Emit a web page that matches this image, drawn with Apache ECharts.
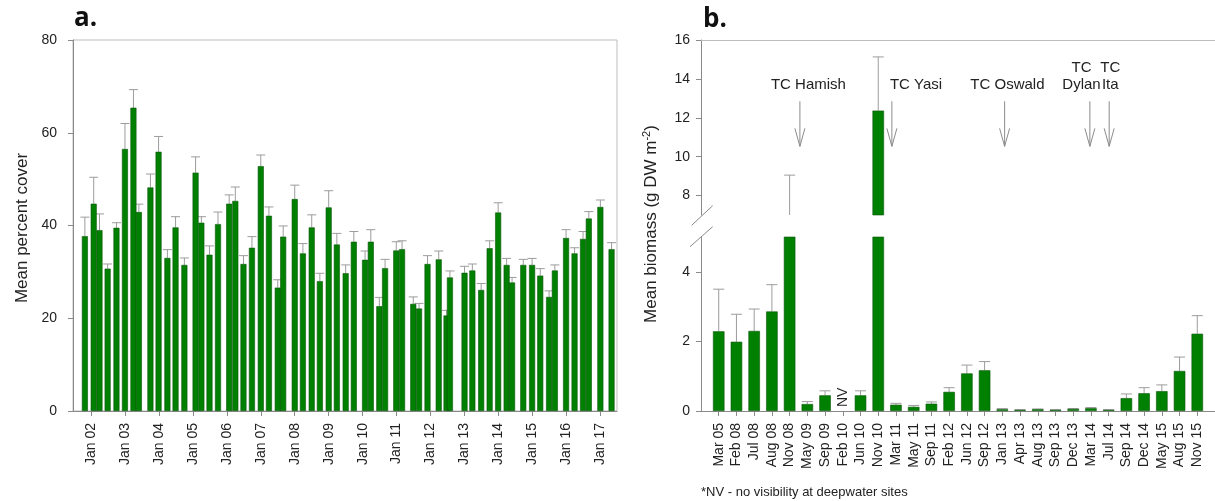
<!DOCTYPE html>
<html><head><meta charset="utf-8">
<script src="https://cdn.jsdelivr.net/npm/echarts@6/dist/echarts.min.js"></script>
<style>html,body{margin:0;padding:0;background:#fff}#c{width:1215px;height:501px}</style>
</head><body><div id="c"></div>
<script>
// ---------- Panel a: mean percent cover ----------
const coverDates = [2001.82,2002.08,2002.25,2002.49,2002.75,2003.00,2003.25,2003.41,2003.75,2003.99,
  2004.25,2004.49,2004.75,2005.08,2005.25,2005.49,2005.74,2006.07,2006.25,2006.49,
  2006.74,2007.00,2007.24,2007.50,2007.66,2008.00,2008.24,2008.50,2008.74,2009.00,
  2009.24,2009.50,2009.74,2010.07,2010.24,2010.49,2010.66,2010.99,2011.16,2011.49,
  2011.66,2011.91,2012.24,2012.47,2012.57,2013.00,2013.23,2013.49,2013.74,2013.99,
  2014.24,2014.40,2014.73,2014.99,2015.23,2015.49,2015.66,2015.99,2016.24,2016.49,
  2016.66,2017.00,2017.33];
const coverMeans = [37.7,44.7,39.0,30.7,39.5,56.5,65.4,42.9,48.2,55.9,
  33.0,39.6,31.5,51.4,40.6,33.7,40.3,44.7,45.3,31.7,
  35.2,52.8,42.1,26.6,37.6,45.7,34.0,39.6,28.0,43.9,
  35.9,29.7,36.5,32.6,36.5,22.6,30.8,34.6,34.9,23.1,
  22.1,31.7,32.7,20.6,28.8,29.8,30.3,26.1,35.1,42.8,
  31.5,27.7,31.5,31.5,29.2,24.6,30.3,37.3,34.0,37.1,
  41.5,44.0,34.9];
const coverErrors = [4.1,5.7,3.5,1.0,1.1,5.5,3.9,1.7,2.9,3.3,
  1.8,2.3,1.5,3.4,1.3,1.9,2.6,1.9,3.0,1.8,
  2.4,2.4,1.9,1.7,2.3,3.0,2.1,2.7,1.7,3.6,
  2.4,1.8,2.2,1.9,2.6,1.9,1.9,1.9,1.8,1.5,
  1.1,1.8,1.8,1.1,1.4,1.4,1.4,1.4,1.6,2.1,
  1.4,1.1,1.2,1.4,1.5,1.3,1.2,1.8,1.2,1.6,
  1.5,1.5,1.4];
const coverYearTicks = [2002,2003,2004,2005,2006,2007,2008,2009,2010,2011,2012,2013,2014,2015,2016,2017];
const coverYTicks = [0,20,40,60,80];

// ---------- Panel b: mean biomass ----------
const biomassCategories = ['Mar 05','Feb 08','Jul 08','Aug 08','Nov 08','May 09','Sep 09','Feb 10','Jun 10','Nov 10',
  'Mar 11','May 11','Sep 11','Feb 12','Jun 12','Sep 12','Jan 13','Apr 13','Aug 13','Sep 13',
  'Dec 13','Mar 14','Jul 14','Sep 14','Dec 14','May 15','Aug 15','Nov 15'];
const biomassMeans = [2.29,1.99,2.30,2.86,6.0,0.20,0.45,null,0.45,12.37,
  0.18,0.12,0.21,0.55,1.08,1.17,0.05,0.03,0.05,0.03,
  0.06,0.08,0.03,0.37,0.51,0.57,1.15,2.22];
const biomassErrors = [1.21,0.79,0.63,0.77,3.05,0.07,0.13,null,0.13,2.76,
  0.04,0.04,0.05,0.12,0.24,0.25,0.02,0.01,0.01,0.01,
  0.01,0.02,0.01,0.12,0.16,0.18,0.40,0.52];
const biomassLowTicks = [0,2,4];
const biomassHighTicks = [8,10,12,14,16];
const cycloneNames = ['TC Hamish','TC Yasi','TC Oswald','TC\nDylan','TC\nIta'];
const cycloneArrowPos = [5.58,10.77,17.13,21.94,23.03];
const cycloneLabelPos = [6.06,12.13,17.29,21.47,23.09];
const noDataLabel = 'NV';
const footnote = '*NV - no visibility at deepwater sites';

const FONT = 'Liberation Sans, Arial, sans-serif';
const TXT = '#222';
const AX = '#8a8a8a';
const BOX = '#bdbdbd';
const ERR = '#9c9c9c';
const GREEN = '#008000';
const EDGE = '#0b560b';

const chart = echarts.init(document.getElementById('c'), null, {renderer:'canvas'});

function errRender(capHalf){
  return function(params, api){
    const x = api.value(0), v = api.value(1), e = api.value(2);
    const p0 = api.coord([x, v]);
    const p1 = api.coord([x, v + e]);
    return {type:'group', children:[
      {type:'line', shape:{x1:p0[0], y1:p0[1], x2:p1[0], y2:p1[1]}, style:{stroke:ERR, lineWidth:1}},
      {type:'line', shape:{x1:p1[0]-capHalf, y1:p1[1], x2:p1[0]+capHalf, y2:p1[1]}, style:{stroke:ERR, lineWidth:1}}
    ]};
  };
}

const coverBarData = coverDates.map((d,i)=>[d, coverMeans[i]]);
const coverErrData = coverDates.map((d,i)=>[d, coverMeans[i], coverErrors[i]]);
const bioBarData = biomassMeans.map((v,i)=>[i+1, v]).filter(d=>d[1]!==null);
const bioErrData = biomassMeans.map((v,i)=>[i+1, v, biomassErrors[i]]).filter(d=>d[1]!==null);
const nvData = biomassMeans.map((v,i)=>[i+1, 0, v]).filter(d=>d[2]===null).map(d=>[d[0], d[1]]);
const cycloneData = cycloneNames.map((n,i)=>[cycloneArrowPos[i], cycloneLabelPos[i], i]);

// arrow geometry in upper-panel data units
const ARROW_TOP = 12.85, ARROW_BOTTOM = 10.53, LABEL_BOTTOM = 13.24;

const yLabel = {color:TXT, fontSize:14, fontFamily:FONT};

const option = {
  animation:false,
  backgroundColor:'#fff',
  grid:[
    {left:73, top:40, width:544, height:371, show:true, borderColor:BOX, borderWidth:1, backgroundColor:'transparent'},
    {left:701, top:40, width:525, height:175},
    {left:701, top:237, width:525, height:174}
  ],
  xAxis:[
    {gridIndex:0, type:'value', min:2001.47, max:2017.49, splitLine:{show:false},
      axisLine:{show:true, onZero:false, lineStyle:{color:AX}},
      axisTick:{show:true, length:5, lineStyle:{color:AX}, customValues:coverYearTicks},
      axisLabel:{rotate:90, margin:12, color:TXT, fontSize:14, fontFamily:FONT, customValues:coverYearTicks,
        formatter:v=>'Jan '+String(Math.round(v)%100).padStart(2,'0')}},
    {gridIndex:1, type:'value', min:0, max:29, position:'top', splitLine:{show:false},
      axisLine:{show:true, onZero:false, lineStyle:{color:BOX}}, axisTick:{show:false}, axisLabel:{show:false}},
    {gridIndex:2, type:'value', min:0, max:29, splitLine:{show:false},
      axisLine:{show:true, onZero:false, lineStyle:{color:AX}},
      axisTick:{show:true, length:5, lineStyle:{color:AX}, customValues:biomassCategories.map((c,i)=>i+1)},
      axisLabel:{rotate:90, margin:12, color:TXT, fontSize:14, fontFamily:FONT,
        customValues:biomassCategories.map((c,i)=>i+1), formatter:v=>biomassCategories[Math.round(v)-1]}}
  ],
  yAxis:[
    {gridIndex:0, type:'value', min:0, max:80, splitLine:{show:false},
      axisLine:{show:true, lineStyle:{color:AX}},
      axisTick:{show:true, length:5, lineStyle:{color:AX}, customValues:coverYTicks},
      axisLabel:Object.assign({margin:16, customValues:coverYTicks}, yLabel)},
    {gridIndex:1, type:'value', min:7, max:16, splitLine:{show:false},
      axisLine:{show:true, lineStyle:{color:AX}},
      axisTick:{show:true, length:5, lineStyle:{color:AX}, customValues:biomassHighTicks},
      axisLabel:Object.assign({margin:11, customValues:biomassHighTicks}, yLabel)},
    {gridIndex:2, type:'value', min:0, max:5, splitLine:{show:false},
      axisLine:{show:true, lineStyle:{color:AX}},
      axisTick:{show:true, length:5, lineStyle:{color:AX}, customValues:biomassLowTicks},
      axisLabel:Object.assign({margin:11, customValues:biomassLowTicks}, yLabel)}
  ],
  series:[
    {type:'custom', xAxisIndex:0, yAxisIndex:0, data:coverErrData, renderItem:errRender(4.5), z:1, silent:true},
    {type:'bar', xAxisIndex:0, yAxisIndex:0, data:coverBarData, barWidth:6, z:2,
      itemStyle:{color:GREEN, borderColor:EDGE, borderWidth:0.6}},
    {type:'custom', xAxisIndex:1, yAxisIndex:1, data:bioErrData, renderItem:errRender(5.5), clip:true, z:1, silent:true},
    {type:'bar', xAxisIndex:1, yAxisIndex:1, data:bioBarData, barWidth:11.5, clip:true, z:2,
      itemStyle:{color:GREEN, borderColor:EDGE, borderWidth:0.6}},
    {type:'custom', xAxisIndex:2, yAxisIndex:2, data:bioErrData, renderItem:errRender(5.5), clip:true, z:1, silent:true},
    {type:'bar', xAxisIndex:2, yAxisIndex:2, data:bioBarData, barWidth:11.5, clip:true, z:2,
      itemStyle:{color:GREEN, borderColor:EDGE, borderWidth:0.6}},
    {type:'custom', xAxisIndex:2, yAxisIndex:2, data:nvData, silent:true, z:3,
      renderItem:function(params, api){
        const p = api.coord([api.value(0), api.value(1)]);
        return {type:'text', x:p[0], y:p[1]-4, rotation:Math.PI/2,
          style:{text:noDataLabel, align:'left', verticalAlign:'middle', fontSize:14, fontFamily:FONT, fill:TXT}};
      }},
    {type:'custom', xAxisIndex:1, yAxisIndex:1, data:cycloneData, silent:true, z:3, clip:false,
      renderItem:function(params, api){
        const ax = api.value(0), lx = api.value(1), idx = api.value(2);
        const a = api.coord([ax, ARROW_TOP]);
        const b = api.coord([ax, ARROW_BOTTOM]);
        const t = api.coord([lx, LABEL_BOTTOM]);
        return {type:'group', children:[
          {type:'line', shape:{x1:a[0], y1:a[1], x2:b[0], y2:b[1]}, style:{stroke:'#8c8c8c', lineWidth:1}},
          {type:'polyline', shape:{points:[[b[0]-5, b[1]-18],[b[0], b[1]],[b[0]+5, b[1]-18]]},
            style:{stroke:'#8c8c8c', lineWidth:1, fill:null}},
          {type:'text', x:t[0], y:t[1], style:{text:cycloneNames[idx], align:'center', verticalAlign:'bottom',
            fontSize:15, lineHeight:17, fontFamily:FONT, fill:TXT}}
        ]};
      }}
  ],
  graphic:[
    {type:'text', left:74, top:6, style:{text:'a.', fontSize:26, fontWeight:'bold', fontFamily:'Open Sans, DejaVu Sans, sans-serif', fill:'#111'}},
    {type:'text', left:703, top:7, style:{text:'b.', fontSize:26, fontWeight:'bold', fontFamily:'Open Sans, DejaVu Sans, sans-serif', fill:'#111'}},
    {type:'text', x:22, y:228, rotation:Math.PI/2,
      style:{text:'Mean percent cover', align:'center', verticalAlign:'middle', fontSize:17, fontFamily:FONT, fill:TXT}},
    {type:'text', x:651, y:224, rotation:Math.PI/2,
      style:{text:'{a|Mean biomass (g DW m}{s|-2}{a|)}', align:'center', verticalAlign:'middle', fill:TXT,
        rich:{a:{fontSize:17, fontFamily:FONT, fill:TXT, lineHeight:20},
              s:{fontSize:11, fontFamily:FONT, fill:TXT, verticalAlign:'top', lineHeight:20, padding:[0,0,8,0]}}}},
    {type:'text', x:701, y:492, style:{text:footnote, align:'left', verticalAlign:'middle', fontSize:13, fontFamily:FONT, fill:TXT}},
    {type:'line', shape:{x1:691.7, y1:225.3, x2:712.7, y2:205.7}, style:{stroke:AX, lineWidth:1}},
    {type:'line', shape:{x1:690, y1:246.7, x2:712.7, y2:226.7}, style:{stroke:AX, lineWidth:1}}
  ]
};
chart.setOption(option);
</script>
</body></html>
